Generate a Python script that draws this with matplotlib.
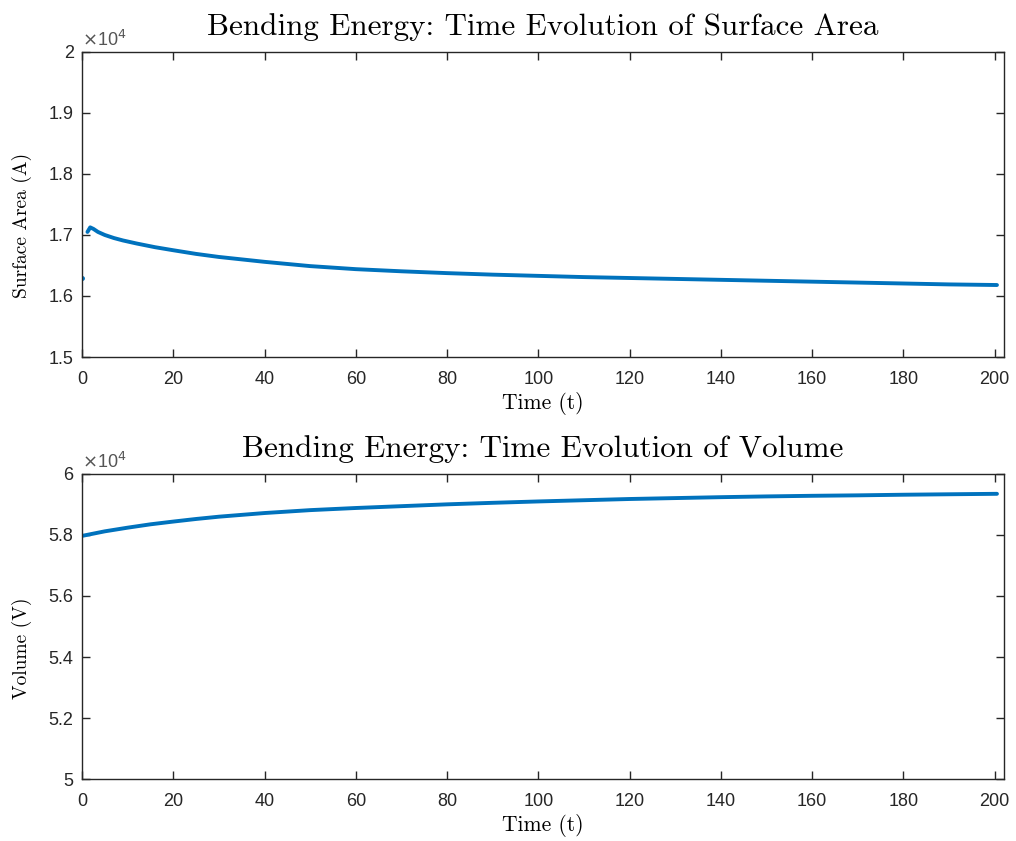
import matplotlib
matplotlib.use("Agg")
import matplotlib.pyplot as plt
from matplotlib.ticker import FuncFormatter, MultipleLocator

# Data
t_area = [0, 1.2, 1.8, 2.5, 3.5, 5, 7, 9, 12, 16, 20, 25, 30, 35, 40, 50, 60, 70, 80, 90, 100, 110, 120, 130, 140, 150, 160, 170, 180, 190, 200.5]
area = [16295, 17050, 17125, 17100, 17050, 17000, 16950, 16910, 16860, 16800, 16750, 16690, 16640, 16600, 16560, 16490, 16440, 16405, 16375, 16350, 16330, 16310, 16295, 16280, 16265, 16250, 16235, 16220, 16205, 16190, 16180]

t_vol = [0, 5, 10, 15, 20, 25, 30, 40, 50, 60, 70, 80, 90, 100, 110, 120, 130, 140, 150, 160, 170, 180, 190, 200.5]
volume = [57970, 58120, 58240, 58350, 58440, 58525, 58600, 58720, 58815, 58885, 58945, 59005, 59055, 59100, 59140, 59180, 59210, 59240, 59265, 59285, 59300, 59320, 59335, 59350]

titles = ["Bending Energy: Time Evolution of Surface Area",
          "Bending Energy: Time Evolution of Volume"]
ylabels = ["Surface Area (A)", "Volume (V)"]
xlabel = "Time (t)"

blue = "#0072BD"
axcol = "#262626"

fig = plt.figure(figsize=(10.16, 8.41), dpi=100)
ax1 = fig.add_axes([0.0807, 0.5755, 0.9073, 0.3627])
ax2 = fig.add_axes([0.0807, 0.0737, 0.9073, 0.3627])

ax1.plot(t_area[1:], area[1:], color=blue, lw=2.8, solid_capstyle="round", solid_joinstyle="round")
ax1.plot(t_area[:1], area[:1], ".", color=blue, ms=5)
ax2.plot(t_vol, volume, color=blue, lw=2.8, solid_capstyle="round", solid_joinstyle="round")

ax1.set_ylim(15000, 20000)
ax1.yaxis.set_major_locator(MultipleLocator(1000))
ax2.set_ylim(50000, 60000)
ax2.yaxis.set_major_locator(MultipleLocator(2000))

fmt = FuncFormatter(lambda v, p: ("%g" % round(v / 1e4, 4)))
serif = "cmr10"

for ax, ttl, yl in zip([ax1, ax2], titles, ylabels):
    ax.set_xlim(0, 202)
    ax.xaxis.set_major_locator(MultipleLocator(20))
    ax.yaxis.set_major_formatter(fmt)
    ax.tick_params(direction="in", top=True, right=True, length=6, width=1.0,
                   colors=axcol, labelsize=13)
    ax.tick_params(axis="x", pad=10)
    ax.tick_params(axis="y", pad=6)
    for lab in ax.get_xticklabels() + ax.get_yticklabels():
        lab.set_fontfamily("Liberation Sans")
    for s in ax.spines.values():
        s.set_color(axcol)
        s.set_linewidth(1.0)
    ax.set_title(ttl, fontfamily=serif, fontsize=22.4, color="black", pad=12)
    ax.set_ylabel(yl, fontfamily=serif, fontsize=14)
    ax.yaxis.set_label_coords(-0.054, 0.43)
    ax.set_xlabel(xlabel, fontfamily=serif, fontsize=15.5, labelpad=3)
    ax.text(0.0, 1.005, r"$\times$10$^4$", transform=ax.transAxes, ha="left", va="bottom",
            fontsize=13, color="#555555", fontfamily="Liberation Sans")

fig.savefig("out.png", dpi=100)
